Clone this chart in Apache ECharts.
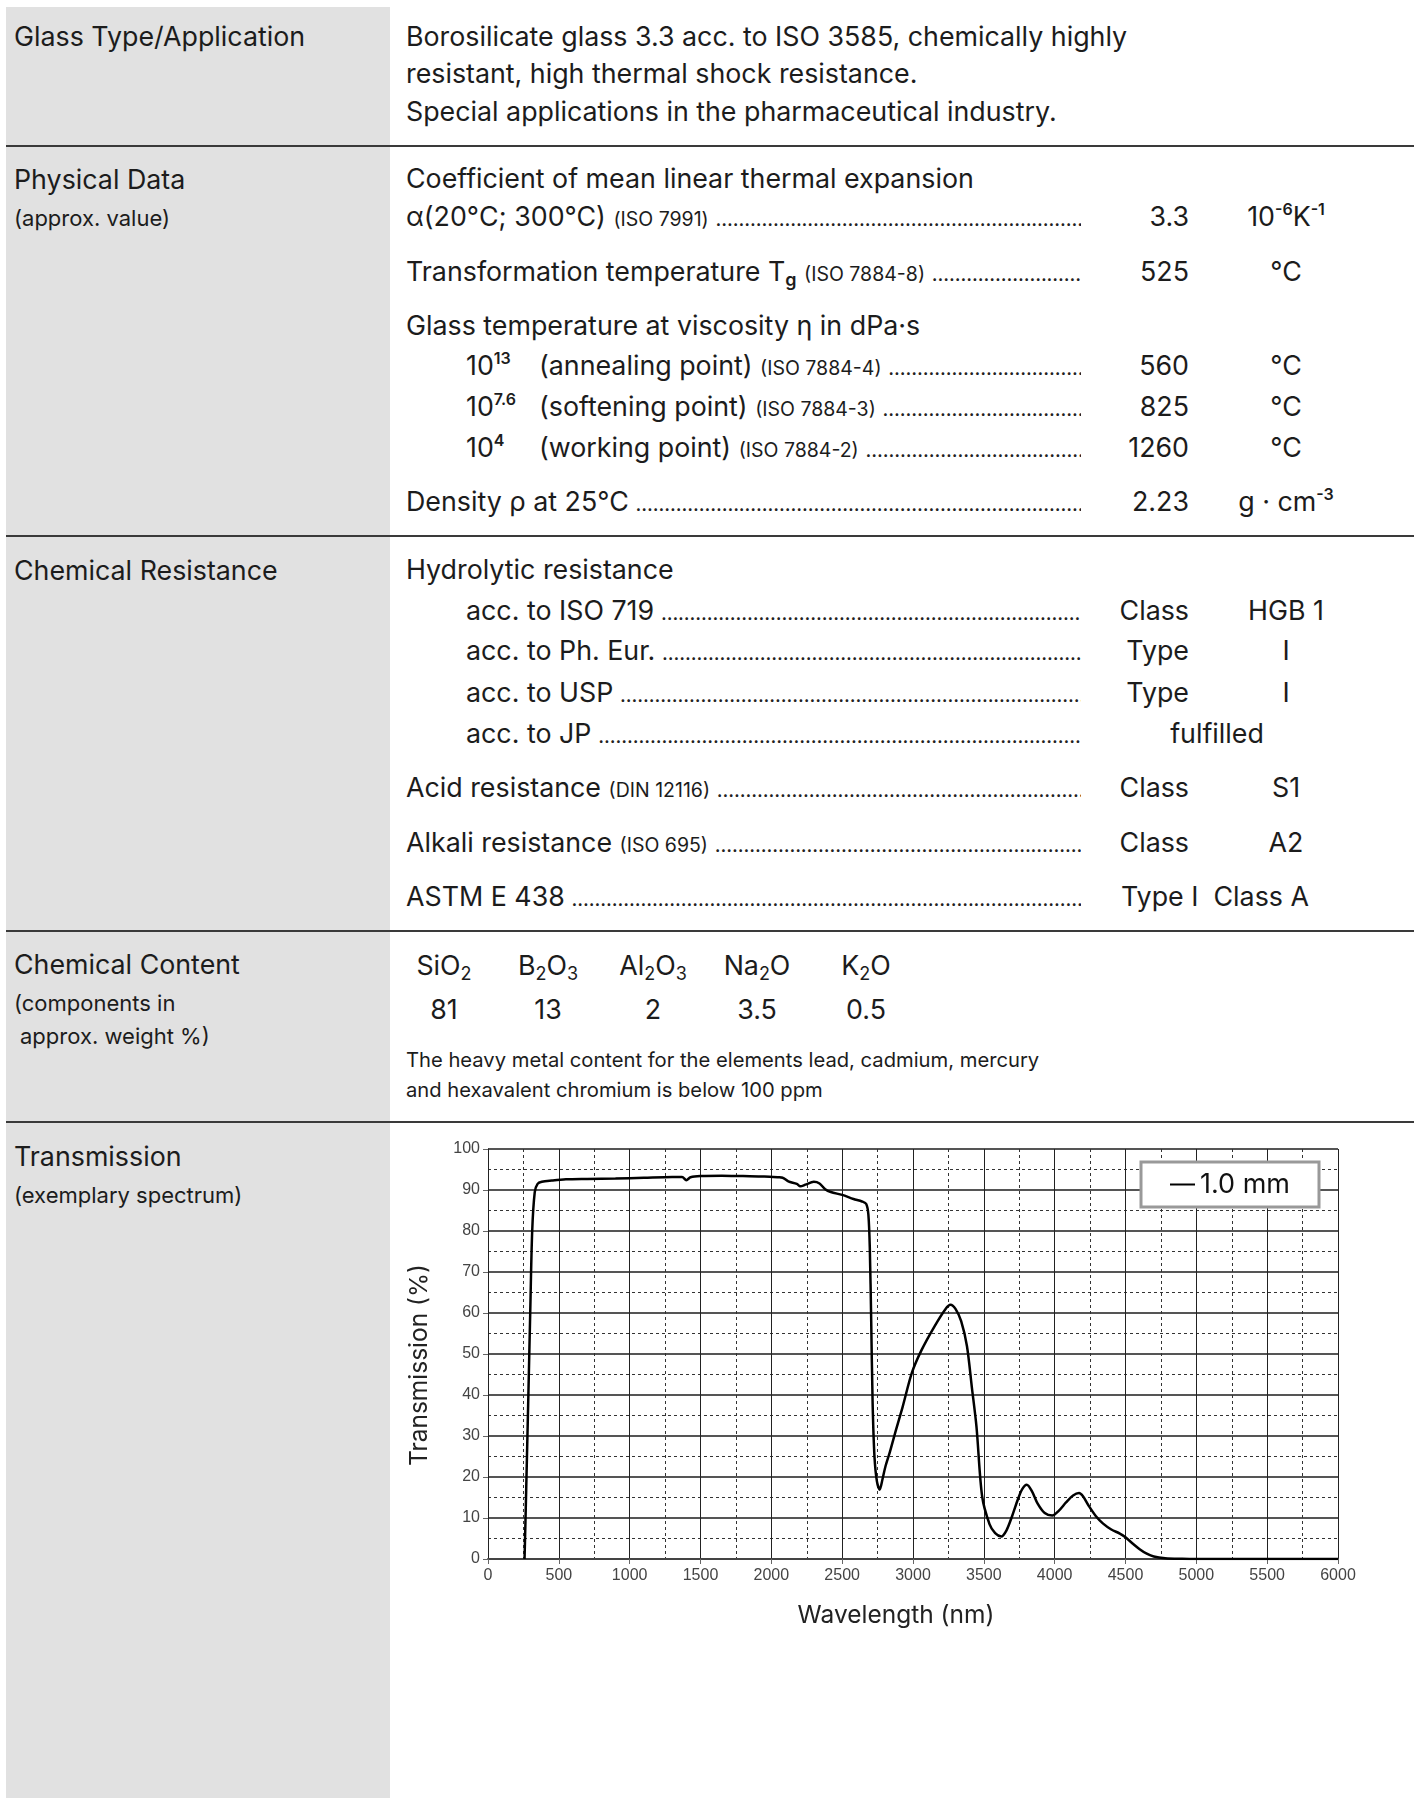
<!DOCTYPE html>
<html>
<head>
<meta charset="utf-8">
<script src="https://cdn.jsdelivr.net/npm/echarts@6/dist/echarts.min.js"></script>
<style>
  html, body { margin: 0; padding: 0; }
  body { width: 1421px; height: 1798px; position: relative; overflow: hidden; background: #fff;
         font-family: Inter, 'Noto Sans', sans-serif; color: #1c1c1c; font-size: 26.8px; }
  .col { position: absolute; left: 6px; top: 7px; width: 384px; bottom: 0; background: #e1e1e1; }
  .rule { position: absolute; left: 6px; width: 1408px; height: 2px; background: #3a3a3a; }
  .t { position: absolute; white-space: nowrap; line-height: 40px; height: 40px; }
  .s { font-size: 22px; }
  .iso { font-size: 19.5px; }
  .lead { display: flex; align-items: baseline; }
  .lead .dots { flex: 1; overflow: hidden; font-size: 16px; font-weight: 700; letter-spacing: 0.4px; margin-left: 7px; color: #222; }
  .val { right: 232px; text-align: right; }
  .unit { left: 1186px; width: 200px; text-align: center; }
  .exp { display: inline-block; width: 73px; }
  sup { font-size: 16px; font-weight: 600; vertical-align: 11px; line-height: 0; }
  sub { font-size: 18px; vertical-align: -5px; line-height: 0; }
  .f { width: 120px; text-align: center; }
  #chart { position: absolute; left: 0; top: 0; width: 1421px; height: 1798px; z-index: 2; }
</style>
</head>
<body>
<div class="col"></div>
<div class="rule" style="top:145px"></div>
<div class="rule" style="top:535px"></div>
<div class="rule" style="top:930px"></div>
<div class="rule" style="top:1121px"></div>

<!-- left labels -->
<div class="t" style="left:14px;top:16px">Glass Type/Application</div>
<div class="t" style="left:14px;top:159px">Physical Data</div>
<div class="t s" style="left:14px;top:198px">(approx. value)</div>
<div class="t" style="left:14px;top:550px">Chemical Resistance</div>
<div class="t" style="left:14px;top:944px">Chemical Content</div>
<div class="t s" style="left:14px;top:983px">(components in</div>
<div class="t s" style="left:20px;top:1016px">approx. weight %)</div>
<div class="t" style="left:14px;top:1136px">Transmission</div>
<div class="t s" style="left:14px;top:1175px">(exemplary spectrum)</div>

<!-- glass type -->
<div class="t" style="left:406px;top:16px">Borosilicate glass 3.3 acc. to ISO 3585, chemically highly</div>
<div class="t" style="left:406px;top:53px">resistant, high thermal shock resistance.</div>
<div class="t" style="left:406px;top:91px">Special applications in the pharmaceutical industry.</div>

<!-- physical data -->
<div class="t" style="left:406px;top:158px">Coefficient of mean linear thermal expansion</div>
<div class="t lead" style="left:406px;top:196px;width:675px"><span>α(20°C; 300°C) <span class="iso">(ISO 7991)</span></span><span class="dots">................................................................................................................................</span></div>
<div class="t val" style="top:196px">3.3</div>
<div class="t unit" style="top:196px">10<sup>-6</sup>K<sup>-1</sup></div>

<div class="t lead" style="left:406px;top:251px;width:675px"><span>Transformation temperature T<sub style="font-weight:600">g</sub> <span class="iso">(ISO 7884-8)</span></span><span class="dots">................................................................................................................................</span></div>
<div class="t val" style="top:251px">525</div>
<div class="t unit" style="top:251px">°C</div>

<div class="t" style="left:406px;top:305px">Glass temperature at viscosity η in dPa·s</div>
<div class="t lead" style="left:466px;top:345px;width:615px"><span><span class="exp">10<sup>13</sup></span>(annealing point) <span class="iso">(ISO 7884-4)</span></span><span class="dots">................................................................................................................................</span></div>
<div class="t val" style="top:345px">560</div>
<div class="t unit" style="top:345px">°C</div>
<div class="t lead" style="left:466px;top:386px;width:615px"><span><span class="exp">10<sup>7.6</sup></span>(softening point) <span class="iso">(ISO 7884-3)</span></span><span class="dots">................................................................................................................................</span></div>
<div class="t val" style="top:386px">825</div>
<div class="t unit" style="top:386px">°C</div>
<div class="t lead" style="left:466px;top:427px;width:615px"><span><span class="exp">10<sup>4</sup></span>(working point) <span class="iso">(ISO 7884-2)</span></span><span class="dots">................................................................................................................................</span></div>
<div class="t val" style="top:427px">1260</div>
<div class="t unit" style="top:427px">°C</div>

<div class="t lead" style="left:406px;top:481px;width:675px"><span>Density ρ at 25°C</span><span class="dots">................................................................................................................................</span></div>
<div class="t val" style="top:481px">2.23</div>
<div class="t unit" style="top:481px">g · cm<sup>-3</sup></div>

<!-- chemical resistance -->
<div class="t" style="left:406px;top:549px">Hydrolytic resistance</div>
<div class="t lead" style="left:466px;top:590px;width:615px"><span>acc. to ISO 719</span><span class="dots">................................................................................................................................</span></div>
<div class="t val" style="top:590px">Class</div>
<div class="t unit" style="top:590px">HGB 1</div>
<div class="t lead" style="left:466px;top:630px;width:615px"><span>acc. to Ph. Eur.</span><span class="dots">................................................................................................................................</span></div>
<div class="t val" style="top:630px">Type</div>
<div class="t unit" style="top:630px">I</div>
<div class="t lead" style="left:466px;top:672px;width:615px"><span>acc. to USP</span><span class="dots">................................................................................................................................</span></div>
<div class="t val" style="top:672px">Type</div>
<div class="t unit" style="top:672px">I</div>
<div class="t lead" style="left:466px;top:713px;width:615px"><span>acc. to JP</span><span class="dots">................................................................................................................................</span></div>
<div class="t" style="left:1117px;width:200px;text-align:center;top:713px">fulfilled</div>

<div class="t lead" style="left:406px;top:767px;width:675px"><span>Acid resistance <span class="iso">(DIN 12116)</span></span><span class="dots">................................................................................................................................</span></div>
<div class="t val" style="top:767px">Class</div>
<div class="t unit" style="top:767px">S1</div>
<div class="t lead" style="left:406px;top:822px;width:675px"><span>Alkali resistance <span class="iso">(ISO 695)</span></span><span class="dots">................................................................................................................................</span></div>
<div class="t val" style="top:822px">Class</div>
<div class="t unit" style="top:822px">A2</div>
<div class="t lead" style="left:406px;top:876px;width:675px"><span>ASTM E 438</span><span class="dots">................................................................................................................................</span></div>
<div class="t" style="left:1121px;top:876px">Type I&nbsp;&nbsp;Class A</div>

<!-- chemical content -->
<div class="t f" style="left:384px;top:945px">SiO<sub>2</sub></div>
<div class="t f" style="left:488px;top:945px">B<sub>2</sub>O<sub>3</sub></div>
<div class="t f" style="left:593px;top:945px">Al<sub>2</sub>O<sub>3</sub></div>
<div class="t f" style="left:697px;top:945px">Na<sub>2</sub>O</div>
<div class="t f" style="left:806px;top:945px">K<sub>2</sub>O</div>
<div class="t f" style="left:384px;top:989px">81</div>
<div class="t f" style="left:488px;top:989px">13</div>
<div class="t f" style="left:593px;top:989px">2</div>
<div class="t f" style="left:697px;top:989px">3.5</div>
<div class="t f" style="left:806px;top:989px">0.5</div>
<div class="t" style="left:406px;top:1040px;font-size:20.2px">The heavy metal content for the elements lead, cadmium, mercury</div>
<div class="t" style="left:406px;top:1070px;font-size:20.2px">and hexavalent chromium is below 100 ppm</div>

<div id="chart"></div>

<script>
// transmission spectrum, 1.0 mm thickness
const wavelength = [258, 265, 275, 285, 298, 312, 330, 350, 380, 450, 550, 700, 900, 1100, 1300, 1370, 1400, 1430,
  1500, 1650, 1800, 1950, 2050, 2080, 2120, 2180, 2205, 2240, 2300, 2340, 2380, 2420, 2500, 2580, 2640,
  2670, 2685, 2695, 2705, 2715, 2728, 2745, 2765, 2785, 2805, 2836, 2880, 2926, 2993, 3061, 3151, 3230, 3265,
  3300, 3340, 3381, 3415, 3448, 3488, 3540, 3580, 3623, 3660, 3700, 3740, 3770, 3803, 3840, 3880, 3930, 3983,
  4030, 4080, 4130, 4172, 4200, 4240, 4290, 4340, 4400, 4460, 4500, 4550, 4600, 4650, 4700, 4780, 4900, 5000, 6000];
const transmission = [0, 10, 25, 40, 60, 80, 89.5, 91.5, 92, 92.3, 92.6, 92.7, 92.8, 93, 93.2, 93.2, 92.4, 93.1,
  93.4, 93.5, 93.4, 93.3, 93.1, 93, 92.1, 91.5, 90.9, 91.3, 92, 91.6, 90.2, 89.5, 88.8, 87.8, 87.2,
  86.6, 84, 76, 58, 38, 25, 19, 16.9, 19.5, 22.5, 26, 31.5, 37, 45.5, 51, 56.7, 61, 62,
  61, 58, 51.9, 42, 32.3, 15.3, 8.5, 6.3, 5.5, 7, 10.5, 14.5, 17, 18.1, 16.5, 13.5, 11.2, 10.6,
  11.8, 13.8, 15.5, 16.1, 15.3, 13, 10.5, 8.7, 7.2, 6.2, 5.3, 3.8, 2.4, 1.3, 0.6, 0.2, 0.05, 0, 0];
const seriesName = '1.0 mm';

const chart = echarts.init(document.getElementById('chart'));
const axisFont = "'Liberation Sans', Arial, sans-serif";

chart.setOption({
  animation: false,
  grid: { left: 488, right: 83, top: 1149, bottom: 239 },
  legend: {
    data: [seriesName],
    left: 1141,
    top: 1162,
    icon: 'rect',
    itemWidth: 25,
    itemHeight: 2,
    itemGap: 6,
    backgroundColor: '#fff',
    borderColor: '#999',
    borderWidth: 3,
    borderRadius: 0,
    padding: [9, 29, 9, 29],
    textStyle: { fontSize: 27, fontFamily: 'Inter', color: '#111' }
  },
  xAxis: {
    type: 'value',
    min: 0,
    max: 6000,
    interval: 500,
    name: 'Wavelength (nm)',
    nameLocation: 'middle',
    nameGap: 44,
    nameTextStyle: { fontSize: 24.5, fontFamily: 'Inter', color: '#222', padding: [0, 34, 0, 0] },
    axisLine: { lineStyle: { color: '#444', width: 2 } },
    axisTick: { show: true, length: 5, lineStyle: { color: '#666' } },
    axisLabel: { fontSize: 16, fontFamily: axisFont, color: '#444', margin: 9, formatter: v => String(v) },
    splitLine: { show: true, lineStyle: { color: '#222', width: 1 } },
    minorTick: { show: false, splitNumber: 2 },
    minorSplitLine: { show: true, lineStyle: { color: '#333', width: 1, type: [3, 3] } }
  },
  yAxis: {
    type: 'value',
    min: 0,
    max: 100,
    interval: 10,
    name: 'Transmission (%)',
    nameLocation: 'middle',
    nameGap: 56,
    nameTextStyle: { fontSize: 24.5, fontFamily: 'Inter', color: '#222', padding: [0, 22, 0, 0] },
    axisLine: { show: true, lineStyle: { color: '#222', width: 1 } },
    axisTick: { show: true, length: 5, lineStyle: { color: '#666' } },
    axisLabel: { fontSize: 16, fontFamily: axisFont, color: '#444', margin: 8 },
    splitLine: { show: true, lineStyle: { color: '#555', width: 2 } },
    minorTick: { show: false, splitNumber: 2 },
    minorSplitLine: { show: true, lineStyle: { color: '#333', width: 1, type: [3, 3] } }
  },
  series: [{
    name: seriesName,
    type: 'line',
    data: wavelength.map((w, i) => [w, transmission[i]]),
    showSymbol: false,
    smooth: 0.3,
    itemStyle: { color: '#000' },
    lineStyle: { color: '#000', width: 2.5 }
  }]
});
</script>
</body>
</html>
